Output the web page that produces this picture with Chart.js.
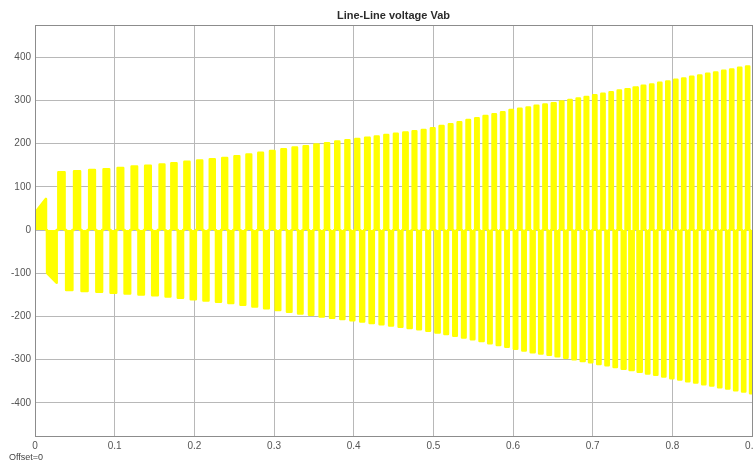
<!DOCTYPE html>
<html>
<head>
<meta charset="utf-8">
<title>Line-Line voltage Vab</title>
<script src="https://cdn.jsdelivr.net/npm/chart.js@4"></script>
<style>
  html, body { margin: 0; padding: 0; background: #fff; overflow: hidden; }
  #wrap { width: 763px; height: 461px; }
</style>
</head>
<body>
<div id="wrap"><canvas id="scope" width="763" height="461"></canvas></div>
<script>
// ===== Data =====
// start-up transient before the first full pulse
const startupT = [0, 0, 0.0135, 0.0138, 0.0150, 0.0152, 0.0270, 0.0272];
const startupV = [0, 40, 72, 0, 0, -100, -122, 0];

// centre time of every positive pulse (s)
const pulseTimes = [
  0.0332, 0.0528, 0.0716, 0.0896, 0.1072, 0.1247, 0.1418, 0.1594, 0.1744, 0.1907,
  0.2067, 0.2225, 0.2381, 0.2534, 0.2684, 0.2832, 0.2978, 0.3121, 0.3261, 0.3399,
  0.3533, 0.3665, 0.3794, 0.3921, 0.4045, 0.4168, 0.4289, 0.4409, 0.4529, 0.4646,
  0.4763, 0.4878, 0.4992, 0.5105, 0.5217, 0.5327, 0.5438, 0.5547, 0.5656, 0.5764,
  0.5871, 0.5978, 0.6085, 0.6191, 0.6296, 0.6402, 0.6507, 0.6611, 0.6715, 0.6819,
  0.6923, 0.7026, 0.7129, 0.7232, 0.7334, 0.7436, 0.7538, 0.7639, 0.7741, 0.7842,
  0.7943, 0.8043, 0.8143, 0.8243, 0.8344, 0.8444, 0.8544, 0.8645, 0.8745, 0.8845,
  0.8945
];

// peak of each positive pulse (V)
const posPeak = [
  134, 136, 139, 141, 144, 147, 149, 152, 155, 158,
  161, 164, 167, 171, 175, 179, 183, 187, 191, 194,
  198, 201, 205, 208, 211, 214, 217, 220, 223, 226,
  229, 232, 236, 241, 245, 250, 255, 259, 264, 268,
  273, 278, 281, 284, 288, 291, 294, 298, 301, 305,
  308, 312, 316, 319, 323, 326, 330, 334, 337, 341,
  344, 348, 351, 355, 358, 362, 365, 369, 372, 376,
  379
];

// peak of the negative pulse that follows each positive one (V)
const negPeak = [
  -139, -141, -143, -145, -147, -149, -151, -154, -157, -160,
  -163, -166, -169, -173, -177, -181, -185, -189, -193, -196,
  -200, -203, -206, -209, -212, -215, -218, -221, -224, -227,
  -230, -233, -237, -241, -245, -249, -253, -257, -262, -266,
  -270, -275, -279, -283, -286, -289, -292, -296, -299, -303,
  -306, -310, -313, -317, -321, -324, -328, -332, -335, -339,
  -343, -346, -350, -353, -357, -360, -364, -367, -371, -374,
  -378
];

// fraction of a period each pulse stays on
const pulseFrac = 0.4;

const xTicks = [0, 0.1, 0.2, 0.3, 0.4, 0.5, 0.6, 0.7, 0.8, 0.9];
const yTicks = [-400, -300, -200, -100, 0, 100, 200, 300, 400];

// ===== Build trace =====
function buildTrace() {
  const pts = startupT.map((t, i) => ({ x: t, y: startupV[i] }));
  const n = pulseTimes.length;
  for (let i = 0; i < n; i++) {
    const t = pulseTimes[i];
    const P = i < n - 1 ? pulseTimes[i + 1] - t : t - pulseTimes[i - 1];
    const w = pulseFrac * P / 2;
    pts.push({ x: t - w, y: 0 }, { x: t - w, y: posPeak[i] },
             { x: t + w, y: posPeak[i] }, { x: t + w, y: 0 });
    const c = t + P / 2;
    pts.push({ x: c - w, y: 0 }, { x: c - w, y: negPeak[i] },
             { x: c + w, y: negPeak[i] }, { x: c + w, y: 0 });
  }
  return pts;
}

// ===== Decorations =====
const scopeDecor = {
  id: 'scopeDecor',
  afterDraw(chart) {
    const { ctx, chartArea: a } = chart;
    ctx.save();
    ctx.strokeStyle = '#8c8c8c';
    ctx.lineWidth = 1;
    ctx.strokeRect(a.left + 0.5, a.top + 0.5, a.right - a.left, a.bottom - a.top);

    ctx.fillStyle = '#2b2b2b';
    ctx.font = 'bold 11px "Liberation Sans", Arial, sans-serif';
    ctx.textAlign = 'center';
    ctx.textBaseline = 'middle';
    ctx.fillText('Line-Line voltage Vab', (a.left + a.right) / 2, 16);

    ctx.fillStyle = '#444';
    ctx.font = '9px "Liberation Sans", Arial, sans-serif';
    ctx.textAlign = 'left';
    ctx.fillText('Offset=0', 9, 458);
    ctx.restore();
  }
};

// ===== Chart =====
new Chart(document.getElementById('scope'), {
  type: 'line',
  data: {
    datasets: [{
      data: buildTrace(),
      borderColor: '#ffff00',
      backgroundColor: '#ffff00',
      borderWidth: 2.5,
      borderJoinStyle: 'round',
      borderCapStyle: 'round',
      fill: 'origin',
      pointRadius: 0,
      tension: 0,
    }],
  },
  options: {
    responsive: false,
    animation: false,
    layout: { padding: { top: 25, left: 0, right: 0, bottom: 0 } },
    plugins: { legend: { display: false }, tooltip: { enabled: false } },
    scales: {
      x: {
        type: 'linear',
        min: 0,
        max: 0.9,
        afterBuildTicks: s => { s.ticks = xTicks.map(v => ({ value: v })); },
        afterFit: s => { s.height = 25; },
        ticks: { color: '#555', font: { family: 'Liberation Sans', size: 10 }, padding: 4, maxRotation: 0 },
        grid: { color: '#b8b8b8', drawTicks: false },
        border: { color: '#8c8c8c' },
      },
      y: {
        min: -477,
        max: 475,
        afterBuildTicks: s => { s.ticks = yTicks.map(v => ({ value: v })); },
        afterFit: s => { s.width = 35; },
        ticks: { color: '#555', font: { family: 'Liberation Sans', size: 10 }, padding: 4 },
        grid: { color: '#b8b8b8', drawTicks: false },
        border: { color: '#8c8c8c' },
      },
    },
  },
  plugins: [scopeDecor],
});
</script>
</body>
</html>
